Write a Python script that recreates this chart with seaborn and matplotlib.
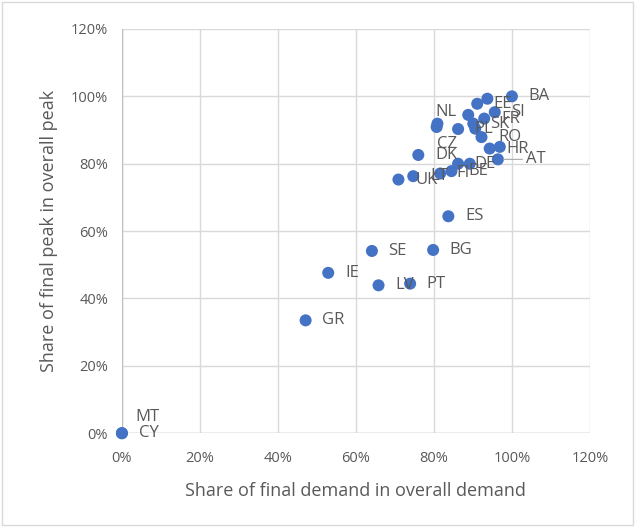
import pandas as pd
import seaborn as sns
import matplotlib.pyplot as plt
from matplotlib.patches import Rectangle
from matplotlib.ticker import PercentFormatter

# Country codes (empty string = label hidden behind others in the original)
countries = ["BA", "", "EE", "SI", "NL", "", "CZ", "PL", "SK", "",
             "FR", "RO", "HR", "", "AT", "DK", "DE", "", "BE", "FI",
             "LT", "UK", "ES", "SE", "BG", "IE", "LV", "PT", "GR", "MT", "CY"]
final_demand = [1.00, 0.937, 0.911, 0.956, 0.888, 0.809, 0.807, 0.862, 0.901, 0.906,
                0.929, 0.922, 0.943, 0.969, 0.964, 0.760, 0.862, 0.892, 0.845, 0.816,
                0.747, 0.709, 0.837, 0.641, 0.798, 0.529, 0.658, 0.739, 0.471, 0.0, 0.0]
final_peak = [1.00, 0.993, 0.978, 0.953, 0.945, 0.919, 0.909, 0.903, 0.919, 0.904,
              0.934, 0.879, 0.845, 0.850, 0.813, 0.826, 0.800, 0.800, 0.778, 0.771,
              0.763, 0.753, 0.644, 0.541, 0.544, 0.476, 0.439, 0.444, 0.335, 0.0, 0.0]

df = pd.DataFrame({"country": countries, "demand": final_demand, "peak": final_peak})

sns.set_theme(style="whitegrid")
plt.rcParams["font.family"] = ["Open Sans", "DejaVu Sans"]
grey = "#595959"

fig = plt.figure(figsize=(6.35, 5.27), dpi=100)
ax = fig.add_axes([0.192, 0.178, 0.737, 0.767])

sns.scatterplot(data=df, x="demand", y="peak", color="#4472C4", s=75,
                edgecolor="none", ax=ax, zorder=3, clip_on=False)

# label placement: default right of the point, a few moved like in the original
special = {"NL": (-24, 2, "left"), "CZ": (0, -12, "left"), "MT": (10, 12, "left")}
for _, r in df.iterrows():
    if not r["country"]:
        continue
    dx, dy, ha = special.get(r["country"], (12, 0, "left"))
    if r["country"] == "AT":
        ax.annotate("AT", (r["demand"], r["peak"]), xytext=(20, 0), textcoords="offset points",
                    ha="left", va="center", fontsize=12, color=grey,
                    arrowprops=dict(arrowstyle="-", color="#A6A6A6", lw=0.8, shrinkA=0, shrinkB=4))
        continue
    ax.annotate(r["country"], (r["demand"], r["peak"]), xytext=(dx, dy), textcoords="offset points",
                ha=ha, va="center", fontsize=12, color=grey, zorder=4)

ax.set_xlim(0, 1.2)
ax.set_ylim(0, 1.2)
ax.set_xticks([0, 0.2, 0.4, 0.6, 0.8, 1.0, 1.2])
ax.set_yticks([0, 0.2, 0.4, 0.6, 0.8, 1.0, 1.2])
ax.xaxis.set_major_formatter(PercentFormatter(1.0, decimals=0))
ax.yaxis.set_major_formatter(PercentFormatter(1.0, decimals=0))
ax.tick_params(colors=grey, labelsize=10.5, length=0)
ax.tick_params(axis="x", pad=13)
ax.tick_params(axis="y", pad=10)
ax.grid(color="#D9D9D9", linewidth=1)
for s in ax.spines.values():
    s.set_visible(False)
ax.axhline(0, color="#BFBFBF", lw=1, zorder=1)
ax.axvline(0, color="#BFBFBF", lw=1, zorder=1)

ax.set_xlabel("Share of final demand in overall demand", fontsize=13, color=grey, labelpad=11)
ax.set_ylabel("Share of final peak in overall peak", fontsize=13, color=grey, labelpad=9)

fig.patches.append(Rectangle((0.003, 0.003), 0.994, 0.994, transform=fig.transFigure,
                             fill=False, edgecolor="#D9D9D9", lw=1))

fig.savefig("out.png", dpi=100)
